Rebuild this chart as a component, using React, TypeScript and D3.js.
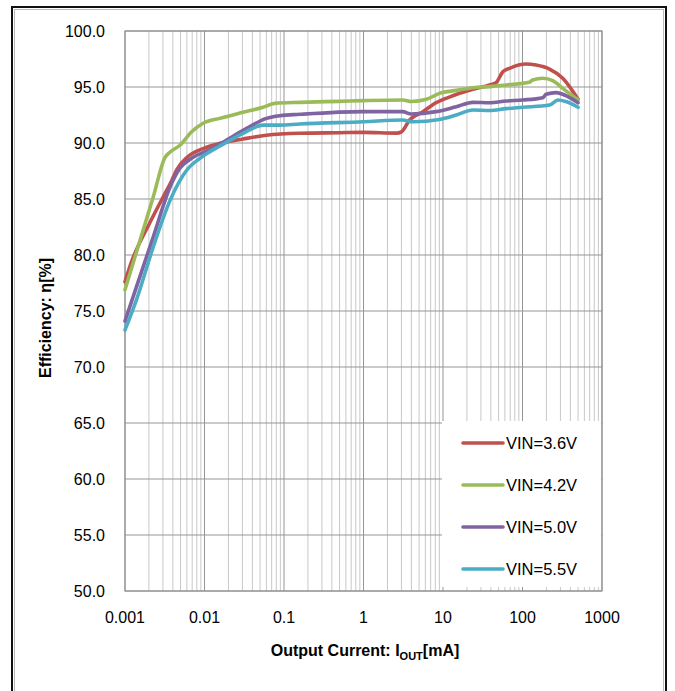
import React from "react";
import * as d3 from "d3";

// Efficiency vs. output current for four input voltages
const seriesNames = ["VIN=3.6V", "VIN=4.2V", "VIN=5.0V", "VIN=5.5V"];
const seriesColors = ["#C0504D", "#9BBB59", "#8064A2", "#4BACC6"];

const iout36 = [0.001, 0.00121, 0.00206, 0.00303, 0.00385, 0.00447, 0.006, 0.0096, 0.0156, 0.0306, 0.06, 0.158, 0.5, 1.0, 2.6, 3.0, 3.8, 5.6, 8.2, 12, 23.8, 38.5, 46.5, 56.6, 68.7, 111, 148, 219, 321, 500];
const eff36 = [77.6, 79.4, 82.9, 85.2, 86.6, 87.6, 88.7, 89.5, 89.97, 90.36, 90.69, 90.87, 90.92, 90.95, 90.88, 91.0, 92.05, 92.8, 93.6, 94.1, 94.79, 95.18, 95.39, 96.37, 96.67, 97.05, 96.96, 96.6, 95.78, 93.9];

const iout42 = [0.001, 0.00227, 0.00318, 0.0037, 0.0049, 0.0069, 0.0096, 0.0156, 0.0306, 0.0546, 0.0765, 0.158, 0.5, 1, 3.1, 4.0, 6.2, 8.2, 9.0, 14.7, 23.8, 38.5, 62.3, 122, 134, 180, 240, 321, 500];
const eff42 = [76.9, 85.2, 88.7, 89.2, 89.8, 91.0, 91.76, 92.2, 92.74, 93.19, 93.54, 93.63, 93.72, 93.78, 93.84, 93.7, 93.9, 94.3, 94.43, 94.7, 94.94, 95.03, 95.18, 95.42, 95.63, 95.78, 95.56, 94.88, 93.84];

const iout50 = [0.001, 0.0014, 0.00227, 0.0037, 0.0049, 0.0072, 0.0117, 0.019, 0.0338, 0.06, 0.0885, 0.158, 1, 3.1, 3.98, 8.2, 14.7, 23.8, 38.5, 62.3, 101, 180, 198, 265, 337, 500];
const eff50 = [74.1, 77.2, 81.63, 86.1, 87.74, 88.72, 89.4, 90.27, 91.3, 92.2, 92.44, 92.56, 92.8, 92.8, 92.59, 92.8, 93.24, 93.63, 93.6, 93.75, 93.84, 94.05, 94.35, 94.5, 94.29, 93.6];

const iout55 = [0.001, 0.0014, 0.00227, 0.0037, 0.006, 0.00875, 0.0156, 0.0306, 0.0546, 0.0885, 0.158, 1, 3.1, 4.2, 9, 14.7, 23.8, 38.5, 62.3, 101, 219, 280, 350, 500];
const eff55 = [73.3, 76.04, 80.74, 84.9, 87.59, 88.63, 89.73, 90.87, 91.6, 91.6, 91.7, 91.9, 92.05, 91.9, 92.1, 92.5, 92.95, 92.9, 93.07, 93.19, 93.39, 93.84, 93.7, 93.19];

const xTicks = [0.001, 0.01, 0.1, 1, 10, 100, 1000];
const xTickLabels = ["0.001", "0.01", "0.1", "1", "10", "100", "1000"];
const yTicks = [50, 55, 60, 65, 70, 75, 80, 85, 90, 95, 100];

const W = 675;
const H = 691;
const plot = { left: 125, right: 602, top: 31, bottom: 591 };
const font = "'Liberation Sans', Arial, sans-serif";

export default function App() {
  const x = d3.scaleLog().domain([0.001, 1000]).range([plot.left, plot.right]);
  const y = d3.scaleLinear().domain([50, 100]).range([plot.bottom, plot.top]);

  const currents = [iout36, iout42, iout50, iout55];
  const effs = [eff36, eff42, eff50, eff55];

  const line = d3
    .line<[number, number]>()
    .x((d) => x(d[0]))
    .y((d) => y(d[1]))
    .curve(d3.curveMonotoneX);

  const minor: number[] = [];
  for (let e = -3; e < 3; e++) {
    for (let m = 2; m <= 9; m++) minor.push(m * Math.pow(10, e));
  }

  const legend = { x0: 442, x1: 601, y0: 421, y1: 587 };
  const legendRows = [443, 485, 527, 569];

  return (
    <svg
      width={W}
      height={H}
      style={{ position: "absolute", left: 0, top: 0, background: "#fff" }}
      fontFamily={font}
    >
      <rect x={0} y={0} width={W} height={H} fill="#fff" />
      {/* outer frame */}
      <rect x={12} y={7} width={654} height={720} fill="none" stroke="#111" strokeWidth={2} />
      <rect x={14.5} y={9.5} width={649} height={715} fill="none" stroke="#bbb" strokeWidth={1} />

      {/* minor vertical gridlines */}
      {minor.map((v, i) => (
        <line key={"mn" + i} x1={x(v)} x2={x(v)} y1={plot.top} y2={plot.bottom} stroke="#c8c8c8" strokeWidth={1} />
      ))}
      {/* major vertical gridlines */}
      {xTicks.map((v, i) => (
        <line key={"mj" + i} x1={x(v)} x2={x(v)} y1={plot.top} y2={plot.bottom} stroke="#959595" strokeWidth={1} />
      ))}
      {/* horizontal gridlines */}
      {yTicks.map((v, i) => (
        <line key={"h" + i} x1={plot.left} x2={plot.right} y1={y(v)} y2={y(v)} stroke="#959595" strokeWidth={1} />
      ))}

      {/* legend background */}
      <rect x={legend.x0} y={legend.y0} width={legend.x1 - legend.x0} height={legend.y1 - legend.y0} fill="#fff" />

      {/* plot border */}
      <rect
        x={plot.left}
        y={plot.top}
        width={plot.right - plot.left}
        height={plot.bottom - plot.top}
        fill="none"
        stroke="#8a8a8a"
        strokeWidth={1}
      />

      {/* series */}
      {currents.map((xs, si) => (
        <path
          key={"s" + si}
          d={line(xs.map((c, i) => [c, effs[si][i]] as [number, number])) || ""}
          fill="none"
          stroke={seriesColors[si]}
          strokeWidth={3.6}
          strokeLinejoin="round"
          strokeLinecap="round"
        />
      ))}

      {/* y tick labels */}
      {yTicks.map((v, i) => (
        <text key={"yl" + i} x={105} y={y(v)} dy="0.35em" textAnchor="end" fontSize={16} fill="#000">
          {v.toFixed(1)}
        </text>
      ))}
      {/* x tick labels */}
      {xTicks.map((v, i) => (
        <text key={"xl" + i} x={x(v)} y={623} textAnchor="middle" fontSize={16} fill="#000">
          {xTickLabels[i]}
        </text>
      ))}

      {/* axis titles */}
      <text
        transform={`translate(51,318) rotate(-90)`}
        textAnchor="middle"
        fontSize={16}
        fontWeight="bold"
        fill="#000"
      >
        Efficiency: η[%]
      </text>
      <text x={365} y={656} textAnchor="middle" fontSize={16} fontWeight="bold" fill="#000">
        Output Current: I
        <tspan fontSize={11} dy={4}>OUT</tspan>
        <tspan dy={-4}>[mA]</tspan>
      </text>

      {/* legend */}
      {seriesNames.map((name, i) => (
        <g key={"lg" + i}>
          <line
            x1={463}
            x2={503}
            y1={legendRows[i]}
            y2={legendRows[i]}
            stroke={seriesColors[i]}
            strokeWidth={3.6}
            strokeLinecap="round"
          />
          <text x={506} y={legendRows[i]} dy="0.35em" fontSize={16.5} fill="#000">
            {name}
          </text>
        </g>
      ))}
    </svg>
  );
}
